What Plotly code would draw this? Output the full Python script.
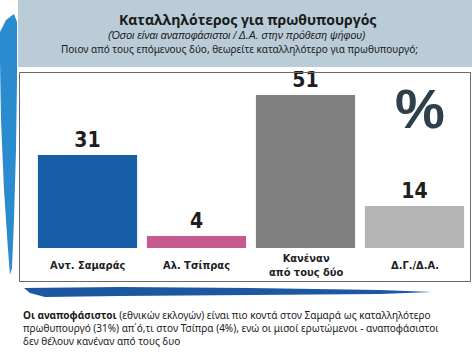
import plotly.graph_objects as go

categories = ["Αντ. Σαμαράς", "Αλ. Τσίπρας", "Κανέναν<br>από τους δύο", "Δ.Γ./Δ.Α."]
values = [31, 4, 51, 14]
colors = ["#165ea6", "#c65a8f", "#808080", "#b4b4b4"]

W, H = 472, 353
ML, MR, MT, MB = 33, 3, 68, 105
PW = W - ML - MR
PH = H - MT - MB

NARROW = "DejaVu Sans Condensed, Liberation Sans Narrow, sans-serif"


def px(x):
    return (x - ML) / PW


def py(y):
    return (H - MB - y) / PH


fig = go.Figure()
fig.add_trace(go.Bar(
    x=list(range(len(categories))), y=values,
    marker=dict(color=colors, line=dict(width=0)),
    text=[str(v) for v in values], texttemplate="<b>%{text}</b>", textposition="outside",
    textfont=dict(family=NARROW, size=21, color="#1e1e1e"),
    cliponaxis=False, width=0.91,
))

shapes = []
# header band
shapes.append(dict(type="rect", xref="paper", yref="paper",
                   x0=px(18), x1=px(473), y0=py(67), y1=py(-1),
                   fillcolor="#b9ccd7", line=dict(width=0), layer="below"))
# chart box
shapes.append(dict(type="rect", xref="paper", yref="paper",
                   x0=px(19.5), x1=px(470.5), y0=py(281.5), y1=py(72.5),
                   fillcolor="rgba(0,0,0,0)", line=dict(color="#6a6a6a", width=1)))


def path(points):
    s = "M " + " L ".join(f"{px(a):.4f},{py(b):.4f}" for a, b in points) + " Z"
    return s


# left swoosh
left_pts = [(14, 14), (17, 22), (17, 80), (16, 150), (14, 220), (12, 268), (10, 275),
            (8, 250), (4, 190), (1, 120), (0, 60), (0, 32), (6, 20)]
shapes.append(dict(type="path", xref="paper", yref="paper", path=path(left_pts),
                   fillcolor="#2a8bcf", line=dict(width=0), layer="below"))
# bottom swoosh
bot_pts = [(24, 288), (120, 287), (250, 288), (380, 290), (432, 292), (380, 294),
           (250, 295), (120, 296), (45, 297), (30, 293)]
shapes.append(dict(type="path", xref="paper", yref="paper", path=path(bot_pts),
                   fillcolor="#1c57a2", line=dict(width=0), layer="below"))

annotations = []
for i, c in enumerate(categories):
    annotations.append(dict(x=i, xref="x", y=py(265), yref="paper", text="<b>" + c + "</b>",
                            showarrow=False, xanchor="center", yanchor="middle",
                            font=dict(family=NARROW, size=11, color="#1e1e1e")))

hdr_font = "Open Sans, Noto Sans, sans-serif"
annotations += [
    dict(x=px(247), y=py(19), xref="paper", yref="paper", showarrow=False,
         text="<b>Καταλληλότερος για πρωθυπουργός</b>",
         font=dict(family=hdr_font, size=14, color="#1a1a1a"),
         xanchor="center", yanchor="middle"),
    dict(x=px(237), y=py(35), xref="paper", yref="paper", showarrow=False,
         text="<i>(Όσοι είναι αναποφάσιστοι / Δ.Α. στην πρόθεση ψήφου)</i>",
         font=dict(family="Liberation Sans, sans-serif", size=10.5, color="#1a1a1a"),
         xanchor="center", yanchor="middle"),
    dict(x=px(239), y=py(49), xref="paper", yref="paper", showarrow=False,
         text="Ποιον από τους επόμενους δύο, θεωρείτε καταλληλότερο για πρωθυπουργό;",
         font=dict(family="Noto Sans, sans-serif", size=10, color="#1a1a1a"),
         xanchor="center", yanchor="middle"),
    dict(x=px(420), y=py(108), xref="paper", yref="paper", showarrow=False,
         text="<b>%</b>",
         font=dict(family="Liberation Sans, sans-serif", size=56, color="#2e404b"),
         xanchor="center", yanchor="middle"),
    dict(x=px(21), y=py(306), xref="paper", yref="paper", showarrow=False,
         text="<b>Οι αναποφάσιστοι</b> (εθνικών εκλογών) είναι πιο κοντά στον Σαμαρά ως καταλληλότερο<br>"
              "πρωθυπουργό (31%) απ΄ό,τι στον Τσίπρα (4%), ενώ οι μισοί ερωτώμενοι - αναποφάσιστοι<br>"
              "δεν θέλουν κανέναν από τους δυο",
         font=dict(family="Noto Sans, sans-serif", size=10, color="#1a1a1a"),
         xanchor="left", yanchor="top", align="left"),
]

fig.update_layout(
    width=W, height=H,
    margin=dict(l=ML, r=MR, t=MT, b=MB),
    paper_bgcolor="white", plot_bgcolor="rgba(0,0,0,0)",
    showlegend=False,
    shapes=shapes, annotations=annotations,
    bargap=0.09,
    xaxis=dict(range=[-0.5, 3.5], showticklabels=False, showgrid=False,
               zeroline=False, showline=False, ticks=""),
    yaxis=dict(range=[0, 60], visible=False, showgrid=False, zeroline=False),
)

fig.write_html("out.html")
